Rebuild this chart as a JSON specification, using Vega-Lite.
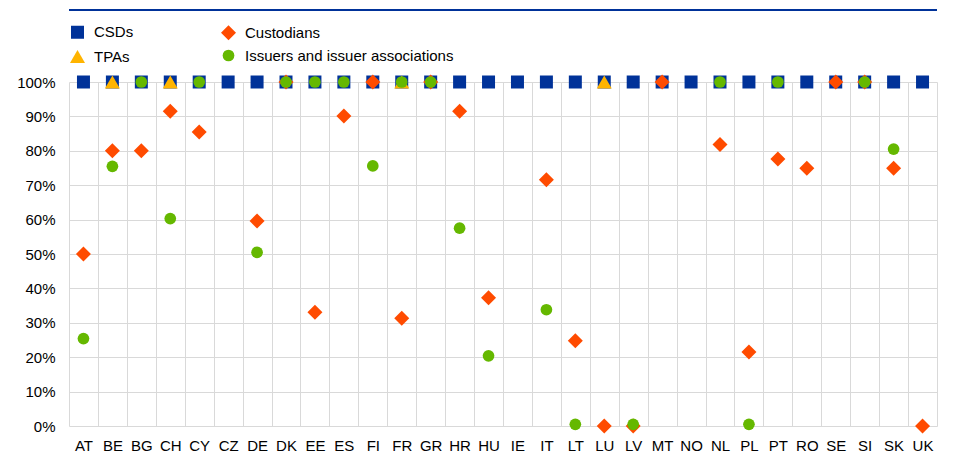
{
  "$schema": "https://vega.github.io/schema/vega-lite/v6.json",
  "autosize": {"type": "none"},
  "width": 868,
  "height": 344,
  "padding": {"left": 69, "top": 82, "right": 16, "bottom": 44},
  "background": "white",
  "config": {
    "font": "Liberation Sans",
    "view": {"stroke": null},
    "axis": {"labelFont": "Liberation Sans", "labelFontSize": 15, "labelColor": "#000000", "gridColor": "#d9d9d9", "gridWidth": 1, "domain": false, "ticks": false, "title": null, "labelOverlap": false}
  },
  "datasets": {
    "pts": [
      {"country": "AT", "series": "CSDs", "value": 1},
      {"country": "BE", "series": "CSDs", "value": 1},
      {"country": "BG", "series": "CSDs", "value": 1},
      {"country": "CH", "series": "CSDs", "value": 1},
      {"country": "CY", "series": "CSDs", "value": 1},
      {"country": "CZ", "series": "CSDs", "value": 1},
      {"country": "DE", "series": "CSDs", "value": 1},
      {"country": "DK", "series": "CSDs", "value": 1},
      {"country": "EE", "series": "CSDs", "value": 1},
      {"country": "ES", "series": "CSDs", "value": 1},
      {"country": "FI", "series": "CSDs", "value": 1},
      {"country": "FR", "series": "CSDs", "value": 1},
      {"country": "GR", "series": "CSDs", "value": 1},
      {"country": "HR", "series": "CSDs", "value": 1},
      {"country": "HU", "series": "CSDs", "value": 1},
      {"country": "IE", "series": "CSDs", "value": 1},
      {"country": "IT", "series": "CSDs", "value": 1},
      {"country": "LT", "series": "CSDs", "value": 1},
      {"country": "LU", "series": "CSDs", "value": 1},
      {"country": "LV", "series": "CSDs", "value": 1},
      {"country": "MT", "series": "CSDs", "value": 1},
      {"country": "NO", "series": "CSDs", "value": 1},
      {"country": "NL", "series": "CSDs", "value": 1},
      {"country": "PL", "series": "CSDs", "value": 1},
      {"country": "PT", "series": "CSDs", "value": 1},
      {"country": "RO", "series": "CSDs", "value": 1},
      {"country": "SE", "series": "CSDs", "value": 1},
      {"country": "SI", "series": "CSDs", "value": 1},
      {"country": "SK", "series": "CSDs", "value": 1},
      {"country": "UK", "series": "CSDs", "value": 1},
      {"country": "BE", "series": "TPAs", "value": 1},
      {"country": "CH", "series": "TPAs", "value": 1},
      {"country": "FR", "series": "TPAs", "value": 1},
      {"country": "LU", "series": "TPAs", "value": 1},
      {"country": "AT", "series": "Custodians", "value": 0.5},
      {"country": "BE", "series": "Custodians", "value": 0.8},
      {"country": "BG", "series": "Custodians", "value": 0.8},
      {"country": "CH", "series": "Custodians", "value": 0.915},
      {"country": "CY", "series": "Custodians", "value": 0.855},
      {"country": "DE", "series": "Custodians", "value": 0.596},
      {"country": "DK", "series": "Custodians", "value": 1},
      {"country": "EE", "series": "Custodians", "value": 0.331},
      {"country": "ES", "series": "Custodians", "value": 0.901},
      {"country": "FI", "series": "Custodians", "value": 1},
      {"country": "FR", "series": "Custodians", "value": 0.313},
      {"country": "GR", "series": "Custodians", "value": 1},
      {"country": "HR", "series": "Custodians", "value": 0.915},
      {"country": "HU", "series": "Custodians", "value": 0.373},
      {"country": "IT", "series": "Custodians", "value": 0.716},
      {"country": "LT", "series": "Custodians", "value": 0.248},
      {"country": "LU", "series": "Custodians", "value": 0},
      {"country": "LV", "series": "Custodians", "value": 0},
      {"country": "MT", "series": "Custodians", "value": 1},
      {"country": "NL", "series": "Custodians", "value": 0.818},
      {"country": "PL", "series": "Custodians", "value": 0.215},
      {"country": "PT", "series": "Custodians", "value": 0.776},
      {"country": "RO", "series": "Custodians", "value": 0.749},
      {"country": "SE", "series": "Custodians", "value": 1},
      {"country": "SI", "series": "Custodians", "value": 1},
      {"country": "SK", "series": "Custodians", "value": 0.749},
      {"country": "UK", "series": "Custodians", "value": 0},
      {"country": "AT", "series": "Issuers and issuer associations", "value": 0.254},
      {"country": "BE", "series": "Issuers and issuer associations", "value": 0.755},
      {"country": "BG", "series": "Issuers and issuer associations", "value": 1},
      {"country": "CH", "series": "Issuers and issuer associations", "value": 0.603},
      {"country": "CY", "series": "Issuers and issuer associations", "value": 1},
      {"country": "DE", "series": "Issuers and issuer associations", "value": 0.505},
      {"country": "DK", "series": "Issuers and issuer associations", "value": 1},
      {"country": "EE", "series": "Issuers and issuer associations", "value": 1},
      {"country": "ES", "series": "Issuers and issuer associations", "value": 1},
      {"country": "FI", "series": "Issuers and issuer associations", "value": 0.756},
      {"country": "FR", "series": "Issuers and issuer associations", "value": 1},
      {"country": "GR", "series": "Issuers and issuer associations", "value": 1},
      {"country": "HR", "series": "Issuers and issuer associations", "value": 0.575},
      {"country": "HU", "series": "Issuers and issuer associations", "value": 0.204},
      {"country": "IT", "series": "Issuers and issuer associations", "value": 0.338},
      {"country": "LT", "series": "Issuers and issuer associations", "value": 0.005},
      {"country": "LV", "series": "Issuers and issuer associations", "value": 0.005},
      {"country": "NL", "series": "Issuers and issuer associations", "value": 1},
      {"country": "PL", "series": "Issuers and issuer associations", "value": 0.005},
      {"country": "PT", "series": "Issuers and issuer associations", "value": 1},
      {"country": "SI", "series": "Issuers and issuer associations", "value": 1},
      {"country": "SK", "series": "Issuers and issuer associations", "value": 0.805}
    ],
    "topline": [{"pos": 1.209}]
  },
  "layer": [
    {
      "data": {"name": "pts"},
      "mark": {"type": "point", "filled": true, "opacity": 1},
      "encoding": {
        "x": {
          "field": "country", "type": "nominal", "sort": null,
          "scale": {"paddingInner": 0, "paddingOuter": 0},
          "axis": {"labelAngle": 0, "grid": true, "tickBand": "extent", "labelPadding": 12, "labelBaseline": "top"}
        },
        "y": {
          "field": "value", "type": "quantitative",
          "scale": {"domain": [0, 1], "nice": false, "zero": true},
          "axis": {"format": ".0%", "values": [0,0.1,0.2,0.3,0.4,0.5,0.6,0.7,0.8,0.9,1], "labelOverlap": false, "labelPadding": 14, "grid": true}
        },
        "color": {
          "field": "series", "type": "nominal",
          "scale": {"domain": ["CSDs", "TPAs", "Custodians", "Issuers and issuer associations"], "range": ["#003299", "#FFB400", "#FF4B00", "#65B800"]},
          "legend": {"title": null, "orient": "none", "legendX": 0, "legendY": -58, "columns": 2, "columnPadding": 86, "rowPadding": 7, "labelFont": "Liberation Sans", "labelFontSize": 15, "labelColor": "#000000", "labelOffset": 8, "labelLimit": 0, "padding": 0}
        },
        "shape": {
          "field": "series", "type": "nominal",
          "scale": {"domain": ["CSDs", "TPAs", "Custodians", "Issuers and issuer associations"], "range": ["square", "triangle-up", "diamond", "circle"]}
        },
        "size": {
          "field": "series", "type": "nominal",
          "scale": {"type": "ordinal", "domain": ["CSDs", "TPAs", "Custodians", "Issuers and issuer associations"], "range": [169, 225, 225, 137]}
        }
      }
    },
    {
      "data": {"name": "topline"},
      "mark": {"type": "rule", "color": "#003299", "strokeWidth": 2, "clip": false},
      "encoding": {"y": {"field": "pos", "type": "quantitative",
        "axis": {"format": ".0%", "values": [0,0.1,0.2,0.3,0.4,0.5,0.6,0.7,0.8,0.9,1], "labelOverlap": false, "labelPadding": 14, "grid": true}}}
    }
  ]
}
